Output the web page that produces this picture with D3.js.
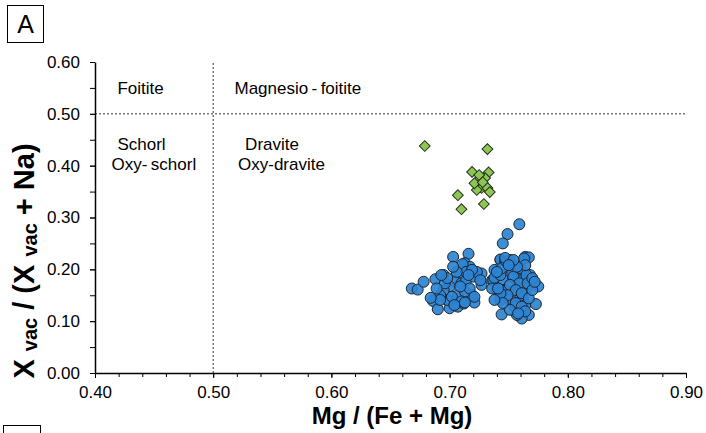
<!DOCTYPE html>
<html>
<head>
<meta charset="utf-8">
<script src="https://cdn.jsdelivr.net/npm/d3@7"></script>
<style>
  body { margin: 0; background: #fff; }
  text { font-family: "Liberation Sans", Arial, sans-serif; fill: #000; }
</style>
</head>
<body>
<svg id="viz" width="706" height="433"></svg>
<script>
// tick values
var xTicks = [0.40, 0.50, 0.60, 0.70, 0.80, 0.90];
var yTicks = [0.00, 0.10, 0.20, 0.30, 0.40, 0.50, 0.60];

// blue circles [Mg/(Fe+Mg), Xvac/(Xvac+Na)]
var bluePoints = [
  [0.668,0.163],[0.673,0.161],[0.678,0.176],[0.688,0.181],[0.695,0.189],[0.703,0.224],
  [0.716,0.230],[0.686,0.139],[0.690,0.123],[0.700,0.125],[0.698,0.141],[0.707,0.128],
  [0.712,0.134],[0.721,0.136],[0.719,0.150],[0.727,0.170],[0.727,0.192],[0.713,0.212],
  [0.717,0.205],[0.709,0.189],[0.705,0.176],[0.700,0.167],[0.695,0.160],[0.692,0.150],
  [0.710,0.173],[0.714,0.179],[0.720,0.186],[0.723,0.195],[0.707,0.150],[0.713,0.157],
  [0.702,0.147],[0.696,0.173],[0.717,0.163],[0.711,0.210],[0.714,0.195],[0.719,0.199],
  [0.716,0.189],[0.706,0.195],[0.721,0.147],[0.710,0.138],[0.704,0.131],[0.692,0.141],
  [0.684,0.145],[0.689,0.163],[0.698,0.183],[0.726,0.179],[0.703,0.205],[0.693,0.189],
  [0.713,0.136],[0.709,0.167],
  [0.759,0.287],[0.749,0.268],[0.745,0.250],[0.743,0.218],[0.764,0.224],[0.767,0.223],
  [0.763,0.221],[0.743,0.219],[0.747,0.215],[0.738,0.199],[0.757,0.199],[0.751,0.202],
  [0.753,0.192],[0.762,0.192],[0.768,0.189],[0.736,0.179],[0.745,0.181],[0.754,0.183],
  [0.761,0.179],[0.771,0.176],[0.775,0.167],[0.740,0.160],[0.748,0.160],[0.758,0.163],
  [0.765,0.163],[0.760,0.147],[0.743,0.141],[0.751,0.141],[0.762,0.144],[0.755,0.128],
  [0.764,0.131],[0.773,0.133],[0.744,0.113],[0.767,0.112],[0.761,0.105],[0.757,0.112],
  [0.737,0.179],[0.736,0.163],[0.738,0.184],[0.743,0.189],[0.744,0.202],[0.740,0.195],
  [0.748,0.215],[0.751,0.218],[0.747,0.222],[0.754,0.186],[0.759,0.173],[0.751,0.170],
  [0.756,0.160],[0.761,0.154],[0.749,0.150],[0.743,0.154],[0.741,0.163],[0.760,0.202],
  [0.765,0.189],[0.766,0.173],[0.770,0.183],[0.756,0.135],[0.761,0.128],[0.751,0.122],
  [0.764,0.119],[0.758,0.115],[0.767,0.144],[0.770,0.160],[0.772,0.176],[0.745,0.135],
  [0.738,0.141],[0.764,0.208],[0.757,0.205],[0.754,0.218],[0.750,0.208]
];

// green diamonds
var greenPoints = [
  [0.679,0.438],[0.732,0.432],[0.719,0.388],[0.733,0.387],[0.724,0.372],[0.726,0.363],
  [0.727,0.357],[0.723,0.353],[0.730,0.376],[0.732,0.357],[0.734,0.349],[0.725,0.382],
  [0.721,0.366],[0.728,0.368],[0.707,0.343],[0.710,0.316],[0.729,0.326]
];

// field names [x, y, label]
var fieldLabels = [
  [0.419, 0.550, "Foitite"],
  [0.518, 0.550, "Magnesio\u2009-\u2009foitite"],
  [0.419, 0.441, "Schorl"],
  [0.414, 0.404, "Oxy-\u2009schorl"],
  [0.527, 0.441, "Dravite"],
  [0.521, 0.404, "Oxy-dravite"]
];

var svg = d3.select("#viz");
var x = d3.scaleLinear().domain([0.4, 0.9]).range([95, 686]);
var y = d3.scaleLinear().domain([0, 0.6]).range([373, 62]);

// panel letter boxes
svg.append("rect").attr("x", 7.5).attr("y", 5.5).attr("width", 36).attr("height", 37)
  .attr("fill", "none").attr("stroke", "#000");
svg.append("text").attr("x", 25.5).attr("y", 33).attr("text-anchor", "middle")
  .style("font-size", "25px").text("A");
svg.append("rect").attr("x", 3.5).attr("y", 425.5).attr("width", 37).attr("height", 20)
  .attr("fill", "none").attr("stroke", "#000");

// dotted boundaries
svg.append("line").attr("x1", x(0.4)).attr("x2", x(0.9)).attr("y1", y(0.5)).attr("y2", y(0.5))
  .attr("stroke", "#333").attr("stroke-dasharray", "2,2");
svg.append("line").attr("x1", x(0.5)).attr("x2", x(0.5)).attr("y1", y(0)).attr("y2", y(0.6))
  .attr("stroke", "#333").attr("stroke-dasharray", "2,2");

// axes
var xMinor = d3.range(0.40, 0.9001, 0.02);
svg.append("g").attr("transform", "translate(0," + y(0) + ")")
  .call(d3.axisBottom(x).tickValues(xMinor).tickSize(4).tickFormat(""))
  .call(g => g.select(".domain").remove());
svg.append("g").attr("transform", "translate(0," + y(0) + ")")
  .call(d3.axisBottom(x).tickValues(xTicks).tickSize(5).tickSizeOuter(0).tickPadding(8).tickFormat(d3.format(".2f")))
  .call(g => g.select(".domain").attr("stroke-width", 1.5))
  .call(g => g.selectAll("text").style("font-size", "17px"));

var yMinor = d3.range(0, 0.6001, 0.05);
svg.append("g").attr("transform", "translate(" + x(0.4) + ",0)")
  .call(d3.axisLeft(y).tickValues(yMinor).tickSize(5).tickFormat(""))
  .call(g => g.select(".domain").remove());
svg.append("g").attr("transform", "translate(" + x(0.4) + ",0)")
  .call(d3.axisLeft(y).tickValues(yTicks).tickSize(5).tickSizeOuter(0).tickPadding(10).tickFormat(d3.format(".2f")))
  .call(g => g.select(".domain").attr("stroke-width", 1.5))
  .call(g => g.selectAll("text").style("font-size", "17px"));

// field labels
svg.append("g").selectAll("text").data(fieldLabels).enter().append("text")
  .attr("x", d => x(d[0])).attr("y", d => y(d[1]))
  .attr("dy", "0.35em")
  .style("font-size", "17px")
  .text(d => d[2]);

// points
svg.append("g").selectAll("circle").data(bluePoints).enter().append("circle")
  .attr("cx", d => x(d[0])).attr("cy", d => y(d[1])).attr("r", 5.5)
  .attr("fill", "#2e84d2").attr("fill-opacity", 0.92)
  .attr("stroke", "#1a2633").attr("stroke-width", 1);

var diamond = d3.symbol().type(d3.symbolSquare).size(58);
svg.append("g").selectAll("path").data(greenPoints).enter().append("path")
  .attr("d", diamond)
  .attr("transform", d => "translate(" + x(d[0]) + "," + y(d[1]) + ") rotate(45)")
  .attr("fill", "#8cc654").attr("stroke", "#24301a").attr("stroke-width", 1);

// axis titles
svg.append("text").attr("x", 392).attr("y", 424).attr("text-anchor", "middle")
  .style("font-size", "24px").style("font-weight", "bold").text("Mg / (Fe + Mg)");

var yt = svg.append("text").attr("transform", "translate(34,261) rotate(-90)")
  .attr("text-anchor", "middle").style("font-size", "29px").style("font-weight", "bold");
yt.append("tspan").text("X ");
yt.append("tspan").attr("dy", 3).style("font-size", "20px").text("vac");
yt.append("tspan").attr("dy", -3).text(" / (X ");
yt.append("tspan").attr("dy", 3).style("font-size", "20px").text("vac");
yt.append("tspan").attr("dy", -3).text(" + Na)");
</script>
</body>
</html>
